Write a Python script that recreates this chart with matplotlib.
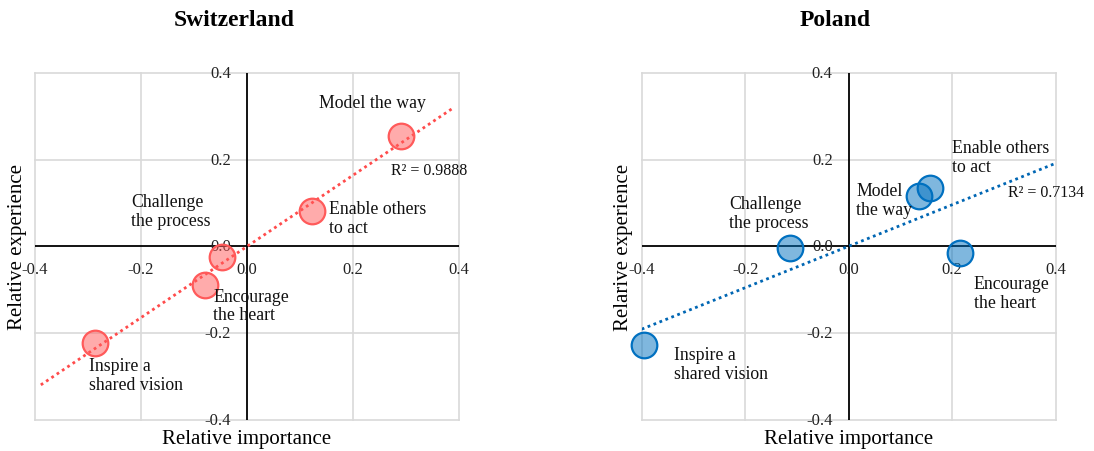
import matplotlib
matplotlib.use("Agg")
import matplotlib.pyplot as plt
import numpy as np

plt.rcParams['font.family'] = ['Liberation Serif', 'DejaVu Serif']

ch_labels = ["Model the way", "Enable others\nto act", "Challenge\nthe process",
             "Encourage\nthe heart", "Inspire a\nshared vision"]
pl_labels = ["Model\nthe way", "Enable others\nto act", "Challenge\nthe process",
             "Encourage\nthe heart", "Inspire a\nshared vision"]

ch_x = [0.290, 0.122, -0.047, -0.079, -0.287]
ch_y = [0.255, 0.081, -0.025, -0.089, -0.222]
ch_r2 = "R² = 0.9888"

pl_x = [0.136, 0.158, -0.113, 0.2145, -0.396]
pl_y = [0.116, 0.134, -0.004, -0.016, -0.227]
pl_r2 = "R² = 0.7134"

ticks = [-0.4, -0.2, 0.0, 0.2, 0.4]
tick_labels = ["-0.4", "-0.2", "0.0", "0.2", "0.4"]

# label anchor positions (left edge, vertical centre) in data units
ch_lab_pos = [(0.136, 0.331), (0.155, 0.066), (-0.218, 0.081), (-0.064, -0.136), (-0.298, -0.297)]
ch_r2_pos = (0.271, 0.177)
pl_lab_pos = [(0.015, 0.107), (0.200, 0.206), (-0.2305, 0.078), (0.2415, -0.107), (-0.338, -0.270)]
pl_r2_pos = (0.308, 0.126)

fig = plt.figure(figsize=(10.94, 4.52), dpi=100)
W, H = 1094, 452

def make_ax(x0, x1, y_top, y_bot):
    return fig.add_axes([x0 / W, 1 - y_bot / H, (x1 - x0) / W, (y_bot - y_top) / H])

ax1 = make_ax(35, 459, 74, 421)
ax2 = make_ax(641.7, 1055.7, 74, 421)

def draw(ax, xs, ys, labels, lab_pos, r2, r2_pos, face, edge, line_c, trend_span,
         title, title_x):
    ax.set_xlim(-0.4, 0.4)
    ax.set_ylim(-0.4, 0.4)
    for s in ax.spines.values():
        s.set_visible(False)
    ax.set_xticks([])
    ax.set_yticks([])
    grid_c = "#D9D9D9"
    for t in ticks:
        if t != 0.0:
            ax.axvline(t, color=grid_c, lw=1.2, zorder=0, clip_on=False)
            ax.axhline(t, color=grid_c, lw=1.2, zorder=0, clip_on=False)
    ax.axvline(0, color="black", lw=1.3, zorder=1)
    ax.axhline(0, color="black", lw=1.3, zorder=1)
    for t, tl in zip(ticks, tick_labels):
        ax.annotate(tl, (t, 0), xytext=(0, -16), textcoords="offset points",
                    ha="center", va="center", fontsize=12, color="#222222", zorder=2,
                    annotation_clip=False)
        ax.annotate(tl, (0, t), xytext=(-11.5, 0), textcoords="offset points",
                    ha="right", va="center", fontsize=12, color="#222222", zorder=2,
                    annotation_clip=False)
    xa = np.array(xs)
    ya = np.array(ys)
    m, b = np.polyfit(xa, ya, 1)
    tx = np.array(trend_span)
    ax.plot(tx, m * tx + b, color=line_c, lw=2.0, linestyle=(0, (1, 1.3)), zorder=3)
    ax.scatter(xs, ys, s=340, facecolor=face, edgecolor=edge, linewidth=1.6, zorder=4,
               clip_on=False)
    for lab, (lx, ly) in zip(labels, lab_pos):
        ax.text(lx, ly, lab, ha="left", va="center", fontsize=12.8, zorder=5,
                linespacing=1.15, color="#111111")
    ax.text(r2_pos[0], r2_pos[1], r2, ha="left", va="center", fontsize=11.5, zorder=5,
            color="#111111", clip_on=False)
    fig.text(title_x / W, 1 - 21 / H, title, ha="center", va="center",
             fontsize=17, fontweight="bold")
    pos = ax.get_position()
    fig.text((pos.x0 + pos.x1) / 2, 1 - 440 / H,
             "Relative importance", ha="center", va="center", fontsize=15)

draw(ax1, ch_x, ch_y, ch_labels, ch_lab_pos, ch_r2, ch_r2_pos,
     face=(1.0, 0.35, 0.35, 0.5), edge="#FF5A5A", line_c="#FF4B4B",
     trend_span=[-0.389, 0.387], title="Switzerland", title_x=234)
fig.text(18 / W, 1 - 247.5 / H, "Relative experience", rotation=90,
         ha="center", va="center", fontsize=15)

draw(ax2, pl_x, pl_y, pl_labels, pl_lab_pos, pl_r2, pl_r2_pos,
     face=(0.0, 0.44, 0.75, 0.5), edge="#0070C0", line_c="#0066B3",
     trend_span=[-0.4, 0.4], title="Poland", title_x=835)
fig.text(624 / W, 1 - 247.5 / H, "Relarive experience", rotation=90,
         ha="center", va="center", fontsize=15)

fig.savefig("out.png", dpi=100, facecolor="white")
